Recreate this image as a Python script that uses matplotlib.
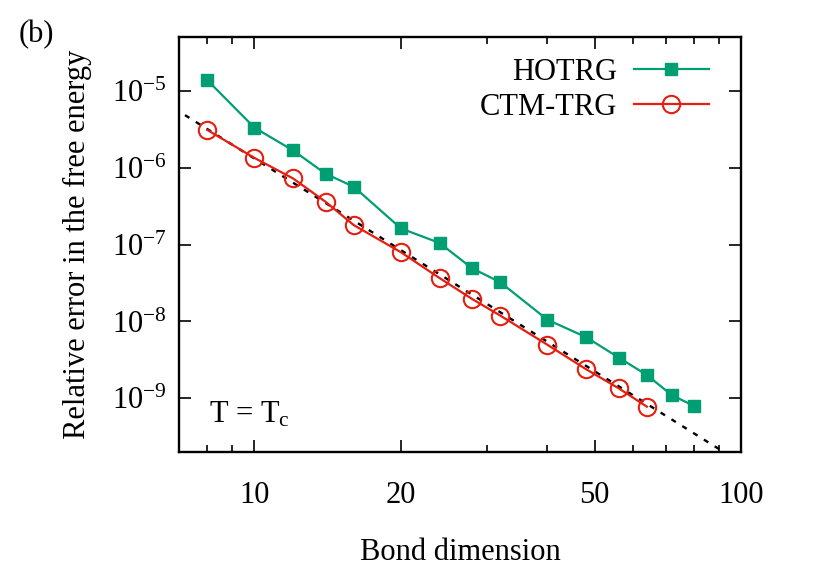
import matplotlib
matplotlib.use('Agg')
import matplotlib.pyplot as plt
import numpy as np

# bond dimensions and relative errors
d_hotrg = [8, 10, 12, 14, 16, 20, 24, 28, 32, 40, 48, 56, 64, 72, 80]
err_hotrg = [1.38e-5, 3.32e-6, 1.68e-6, 8.35e-7, 5.65e-7, 1.62e-7, 1.05e-7,
             4.91e-8, 3.23e-8, 1.05e-8, 6.25e-9, 3.39e-9, 2.01e-9, 1.10e-9, 7.94e-10]
d_ctm = [8, 10, 12, 14, 16, 20, 24, 28, 32, 40, 48, 56, 64]
err_ctm = [3.10e-6, 1.34e-6, 7.26e-7, 3.60e-7, 1.79e-7, 7.94e-8, 3.67e-8,
           1.96e-8, 1.19e-8, 4.96e-9, 2.39e-9, 1.35e-9, 7.78e-10]
# power-law fit a * D^b (dashed line)
fit_a = 0.0120
fit_b = -3.96

xticks = [10, 20, 50, 100]
xminor = [7, 8, 9, 30, 40, 60, 70, 80, 90]
yticks = [1e-9, 1e-8, 1e-7, 1e-6, 1e-5]

plt.rcParams['font.family'] = ['Liberation Serif', 'DejaVu Serif']
plt.rcParams['mathtext.fontset'] = 'custom'
plt.rcParams['mathtext.rm'] = 'Liberation Serif'
plt.rcParams['mathtext.it'] = 'Liberation Serif:italic'
plt.rcParams['font.size'] = 22

fig = plt.figure(figsize=(8.3, 5.71), dpi=100)
ax = fig.add_axes([0.2157, 0.2084, 0.893 - 0.2157, 0.935 - 0.2084])

xfit = np.geomspace(6.5, 110, 200)
ax.plot(xfit, fit_a * xfit ** fit_b, color='black', lw=1.7, dashes=(2.2, 3.2))
ax.plot(d_hotrg, err_hotrg, color='#009e73', lw=1.6, marker='s', ms=9,
        label='HOTRG')
ax.plot(d_ctm, err_ctm, color='#e51e10', lw=1.6, marker='o', ms=12.5,
        mfc='none', mew=1.5, label='CTM-TRG')

ax.set_xscale('log')
ax.set_yscale('log')
ax.set_xlim(7, 100)
ax.set_ylim(2e-10, 5e-5)
ax.set_xticks(xticks)
ax.set_xticklabels([str(t) for t in xticks])
ax.set_xticks(xminor, minor=True)
ax.set_xticklabels([], minor=True)
ax.set_yticks(yticks)
ax.yaxis.set_minor_locator(matplotlib.ticker.NullLocator())

for s in ax.spines.values():
    s.set_linewidth(1.7)
ax.tick_params(which='both', direction='in', top=True, right=True, width=1.2)
ax.tick_params(which='major', length=8.6)
ax.tick_params(which='minor', length=4.7)
ax.tick_params(axis='x', which='major', pad=21)
ax.tick_params(axis='y', which='major', pad=9)

ax.set_xlabel('Bond dimension', labelpad=20)
ax.set_ylabel('Relative error in the free energy')
ax.yaxis.set_label_coords(-0.155, 0.5)

ax.text(0.053, 0.09, r'T = T$_{\rm c}$', transform=ax.transAxes, va='center')
fig.text(0.022, 0.94, '(b)', va='center')

ax.legend(loc='upper right', frameon=False, markerfirst=False,
          handlelength=2.45, handletextpad=0.55, labelspacing=0.2,
          bbox_to_anchor=(0.975, 0.995), borderaxespad=0.3, borderpad=0.3)

plt.savefig('out.png', dpi=100)
